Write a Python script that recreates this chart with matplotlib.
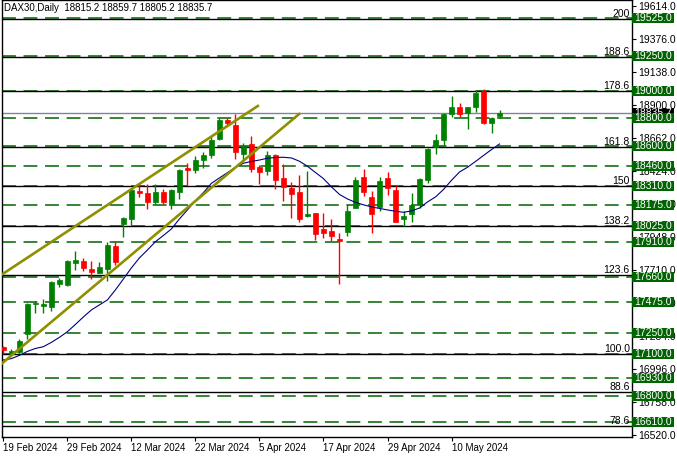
import matplotlib
matplotlib.use('Agg')
import matplotlib.pyplot as plt
from matplotlib.patches import Rectangle

plt.rcParams['font.family'] = ['Liberation Sans', 'DejaVu Sans']
plt.rcParams['lines.scale_dashes'] = False

title = 'DAX30,Daily  18815.2 18859.7 18805.2 18835.7'

# daily candles
opens = [17155, 17104, 17114, 17244, 17460, 17450, 17443, 17608, 17597, 17758,
         17772, 17717, 17688, 17717, 17878, 18041, 18075, 18279, 18265, 18195,
         18267, 18176, 18272, 18445, 18428, 18500, 18536, 18652, 18789, 18752,
         18546, 18616, 18452, 18423, 18536, 18368, 18301, 18270, 18097, 18116,
         18003, 17988, 17931, 17984, 18156, 18375, 18234, 18159, 18368, 18284,
         18077, 18111, 18185, 18358, 18594, 18645, 18832, 18882, 18841, 18885,
         18998, 18769, 18815.2]
highs = [17162, 17138, 17212, 17467, 17483, 17498, 17628, 17652, 17779, 17844,
         17792, 17772, 17765, 17911, 17918, 18090, 18296, 18325, 18325, 18325,
         18289, 18289, 18435, 18479, 18529, 18560, 18673, 18801, 18801, 18830,
         18625, 18676, 18464, 18565, 18540, 18473, 18340, 18390, 18421, 18120,
         18116, 18075, 17972, 18181, 18380, 18433, 18277, 18378, 18414, 18320,
         18133, 18260, 18370, 18584, 18688, 18837, 18962, 18909, 18882, 19005,
         19012, 18813, 18859.7]
lows = [17101, 17094, 17102, 17208, 17395, 17395, 17414, 17587, 17592, 17709,
        17702, 17643, 17688, 17630, 17743, 17947, 18034, 18236, 18149, 18181,
        18181, 18149, 18221, 18322, 18404, 18445, 18517, 18645, 18745, 18510,
        18500, 18416, 18327, 18392, 18291, 18205, 18084, 18053, 18087, 17926,
        17940, 17916, 17606, 17952, 18152, 18243, 17976, 18135, 18248, 18050,
        18024, 18055, 18156, 18337, 18544, 18601, 18808, 18813, 18724, 18849,
        18760, 18697, 18805.2]
closes = [17133, 17123, 17195, 17462, 17467, 17462, 17621, 17635, 17772, 17782,
          17724, 17693, 17729, 17888, 17767, 18082, 18284, 18260, 18200, 18267,
          18195, 18284, 18428, 18428, 18500, 18536, 18645, 18789, 18769, 18560,
          18601, 18433, 18416, 18536, 18356, 18308, 18257, 18077, 18111, 17969,
          17976, 17954, 17916, 18132, 18356, 18272, 18113, 18349, 18296, 18055,
          18097, 18174, 18363, 18579, 18645, 18832, 18882, 18832, 18882, 18981,
          18769, 18803, 18835.7]

# moving average line
ma = [17058, 17068, 17091, 17120, 17141, 17154, 17185, 17221, 17262, 17314,
      17368, 17419, 17455, 17491, 17563, 17642, 17722, 17794, 17851, 17911,
      17956, 18003, 18075, 18140, 18207, 18265, 18332, 18371, 18409, 18448,
      18477, 18490, 18500, 18513, 18518, 18520, 18515, 18491, 18455, 18410,
      18366, 18306, 18252, 18219, 18195, 18177, 18162, 18151, 18140, 18131,
      18123, 18133, 18154, 18198, 18234, 18288, 18354, 18414, 18448, 18490,
      18533, 18576, 18616]

# horizontal support / resistance levels (green dashed)
levels = [19525, 19250, 19000, 18800, 18600, 18460, 18310, 18175, 18025,
          17910, 17660, 17475, 17250, 17100, 16930, 16800, 16610]

# fibonacci levels (solid black)
fib_names = ['200', '188.6', '178.6', '161.8', '150', '138.2', '123.6',
             '100.0', '88.6', '78.6']
fib_prices = [19515, 19242, 19000, 18595, 18310, 18025, 17670, 17100, 16827, 16585]

last_price = 18835.7

# trend channel lines (bar index, price)
upper_x = [-0.3, 31.8]
upper_y = [17670, 18890]
lower_x = [-0.3, 36.96]
lower_y = [17027, 18832]

price_ticks = [19614.0, 19376.0, 19138.0, 18900.0, 18662.0, 18424.0, 18186.0,
               17948.0, 17710.0, 17472.0, 17234.0, 16996.0, 16758.0, 16520.0]
date_pos = [0, 8, 16, 24, 32, 40, 48, 56]
date_labels = ['19 Feb 2024', '29 Feb 2024', '12 Mar 2024', '22 Mar 2024',
               '5 Apr 2024', '17 Apr 2024', '29 Apr 2024', '10 May 2024']

fig = plt.figure(figsize=(6.77, 4.59), dpi=100)
ax = fig.add_axes([0.003, 0.048, 0.93, 0.952])
ax.set_xlim(-0.16, 78.5)
ax.set_ylim(16503, 19654)

trans = ax.get_yaxis_transform()

for lv in levels:
    ax.axhline(lv, color='#006400', lw=1.1, ls=(0, (10, 5.5)), zorder=1)
for name, fp in zip(fib_names, fib_prices):
    ax.axhline(fp, color='black', lw=1.0, zorder=1.5)
    ax.text(0.997, fp, name, transform=trans, ha='right', va='bottom',
            fontsize=7.5, color='black')
ax.axhline(last_price, color='#778899', lw=1.0, zorder=1.6)

x = list(range(len(opens)))
colors = ['#ff0000' if c < o else '#008000' for o, c in zip(opens, closes)]
ax.vlines(x, lows, highs, colors=colors, lw=1, zorder=3)
bottoms = [min(o, c) for o, c in zip(opens, closes)]
heights = [max(abs(c - o), 10) for o, c in zip(opens, closes)]
ax.bar(x, heights, 0.62, bottoms, color=colors, edgecolor=colors, lw=0.5, zorder=3)

ax.plot(x, ma, color='#000080', lw=0.8, zorder=4)
ax.plot(upper_x, upper_y, color='#8f8f00', lw=1.9, zorder=5)
ax.plot(lower_x, lower_y, color='#8f8f00', lw=1.9, zorder=5)

# price scale on the right
ax.yaxis.tick_right()
ax.set_yticks(price_ticks)
ax.set_yticklabels(['%.1f' % t for t in price_ticks], fontsize=7.5)
ax.tick_params(axis='y', length=3, pad=2, direction='out')

ax.set_xticks(date_pos)
ax.set_xticklabels(date_labels, fontsize=7)
for lbl in ax.get_xticklabels():
    lbl.set_ha('left')
ax.tick_params(axis='x', length=3, pad=1.5, direction='out')

for sp in ax.spines.values():
    sp.set_color('black')
    sp.set_linewidth(1)

# price boxes on the scale: current price first, level boxes over it
box_x = 1.0008
box_w = 0.066
box_h = 72


def price_box(val, fc, z):
    ax.add_patch(Rectangle((box_x, val - box_h / 2), box_w, box_h, transform=trans,
                           fc=fc, ec='none', clip_on=False, zorder=z))
    ax.text(box_x + box_w / 2, val, '%.1f' % val, transform=trans, ha='center',
            va='center', color='white', fontsize=7.5, clip_on=False, zorder=z + 0.1)


price_box(last_price, 'black', 9)
for lv in levels:
    price_box(lv, '#006400', 10)

fig.text(0.006, 0.982, title, fontsize=7, va='center', ha='left')

fig.savefig('out.png', dpi=100)
